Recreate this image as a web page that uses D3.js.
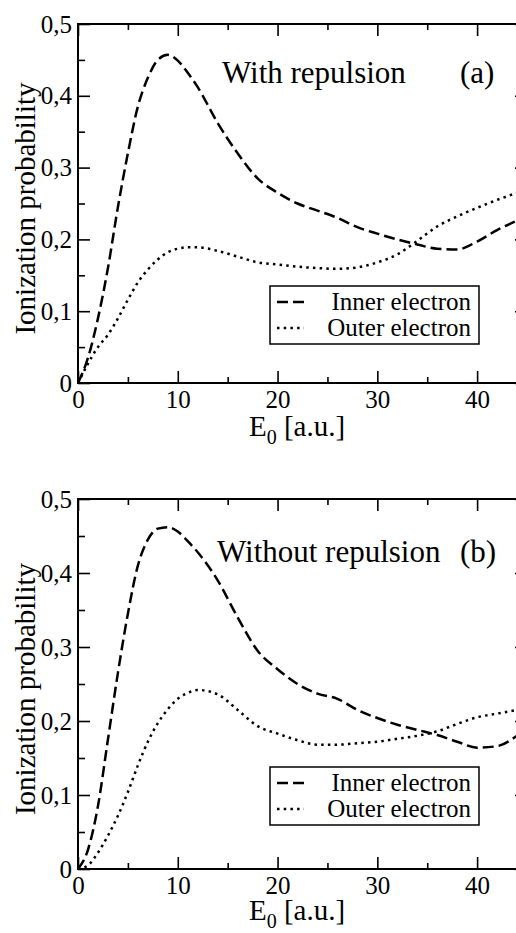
<!DOCTYPE html>
<html>
<head>
<meta charset="utf-8">
<script src="https://cdn.jsdelivr.net/npm/d3@7"></script>
<style>
  body { margin: 0; background: #fff; }
  svg { display: block; }
  svg text { font-family: "Liberation Serif", "Times New Roman", "DejaVu Serif", serif !important; }
</style>
</head>
<body>
<svg id="chart" width="516" height="933"></svg>
<script>
// energy grid (a.u.)
const energy = [0, 1, 2, 3, 4, 5, 6, 7, 8, 9, 10, 11, 12, 14, 16, 18, 20, 22, 24, 26, 28, 30, 32, 34, 36, 38, 40, 42, 44, 45];

// panel (a) with repulsion
const innerWith = [0, 0.035, 0.09, 0.16, 0.245, 0.32, 0.385, 0.425, 0.45, 0.457, 0.449, 0.432, 0.412, 0.362, 0.32, 0.285, 0.265, 0.25, 0.24, 0.23, 0.217, 0.208, 0.2, 0.193, 0.187, 0.186, 0.197, 0.213, 0.226, 0.232];
const outerWith = [0, 0.027, 0.05, 0.067, 0.09, 0.116, 0.14, 0.158, 0.172, 0.182, 0.187, 0.189, 0.189, 0.184, 0.176, 0.168, 0.165, 0.162, 0.16, 0.159, 0.161, 0.168, 0.179, 0.198, 0.218, 0.232, 0.244, 0.255, 0.265, 0.27];

// panel (b) without repulsion
const innerWithout = [0, 0.026, 0.085, 0.175, 0.265, 0.345, 0.41, 0.445, 0.46, 0.462, 0.456, 0.443, 0.428, 0.39, 0.34, 0.295, 0.27, 0.25, 0.237, 0.23, 0.215, 0.204, 0.195, 0.188, 0.181, 0.172, 0.164, 0.166, 0.18, 0.19];
const outerWithout = [0, 0.005, 0.022, 0.045, 0.072, 0.104, 0.14, 0.172, 0.197, 0.216, 0.23, 0.238, 0.242, 0.236, 0.215, 0.193, 0.183, 0.174, 0.168, 0.168, 0.17, 0.172, 0.176, 0.18, 0.186, 0.196, 0.205, 0.21, 0.215, 0.218];

const xMajor = [0, 10, 20, 30, 40];
const xMinor = [5, 15, 25, 35, 45];
const xTickLabels = ["0", "10", "20", "30", "40"];
const yMajor = [0, 0.1, 0.2, 0.3, 0.4, 0.5];
const yMinor = [0.05, 0.15, 0.25, 0.35, 0.45];
const yTickLabels = ["0", "0,1", "0,2", "0,3", "0,4", "0,5"];
const legendNames = ["Inner electron", "Outer electron"];

const serif = "Liberation Serif, Times New Roman, DejaVu Serif, serif";
const svg = d3.select("#chart");

const panels = [
  { top: 24, bottom: 383, inner: innerWith, outer: outerWith, title: "With repulsion", tag: "(a)",
    titleX: 222, tagX: 460, titleY: 83, legendY: 286, xTitleY: 436 },
  { top: 499, bottom: 869, inner: innerWithout, outer: outerWithout, title: "Without repulsion", tag: "(b)",
    titleX: 217, tagX: 460, titleY: 562, legendY: 767, xTitleY: 920 }
];

const left = 78, right = 527;

panels.forEach((p, pi) => {
  const x = d3.scaleLinear().domain([0, 45]).range([left, right]);
  const y = d3.scaleLinear().domain([0, 0.5]).range([p.bottom, p.top]);
  const g = svg.append("g").attr("font-family", serif);

  const clipId = "clip" + pi;
  g.append("clipPath").attr("id", clipId)
    .append("rect").attr("x", left).attr("y", p.top)
    .attr("width", right - left).attr("height", p.bottom - p.top);

  // axes: major + minor ticks, pointing inward
  const styleAxis = sel => {
    sel.attr("font-family", serif);
    sel.select(".domain").remove();
    sel.selectAll(".tick line").attr("stroke", "#000").attr("stroke-width", 1.6);
    sel.selectAll(".tick text").attr("fill", "#000").style("font-size", "25px");
  };
  g.append("g").attr("transform", `translate(0,${p.bottom})`)
    .call(d3.axisBottom(x).tickValues(xMajor).tickSize(-12).tickPadding(7)
      .tickFormat((d, i) => xTickLabels[i]))
    .call(styleAxis);
  g.append("g").attr("transform", `translate(0,${p.bottom})`)
    .call(d3.axisBottom(x).tickValues(xMinor).tickSize(-6).tickFormat(""))
    .call(styleAxis);
  g.append("g").attr("transform", `translate(0,${p.top})`)
    .call(d3.axisTop(x).tickValues(xMajor).tickSize(-12).tickFormat(""))
    .call(styleAxis);
  g.append("g").attr("transform", `translate(0,${p.top})`)
    .call(d3.axisTop(x).tickValues(xMinor).tickSize(-6).tickFormat(""))
    .call(styleAxis);
  g.append("g").attr("transform", `translate(${left},0)`)
    .call(d3.axisLeft(y).tickValues(yMajor).tickSize(-12).tickPadding(6)
      .tickFormat((d, i) => yTickLabels[i]))
    .call(styleAxis);
  g.append("g").attr("transform", `translate(${left},0)`)
    .call(d3.axisLeft(y).tickValues(yMinor).tickSize(-7).tickFormat(""))
    .call(styleAxis);
  g.append("g").attr("transform", `translate(${right},0)`)
    .call(d3.axisRight(y).tickValues(yMajor).tickSize(-12).tickFormat(""))
    .call(styleAxis);
  g.append("g").attr("transform", `translate(${right},0)`)
    .call(d3.axisRight(y).tickValues(yMinor).tickSize(-7).tickFormat(""))
    .call(styleAxis);

  // frame
  g.append("rect")
    .attr("x", left).attr("y", p.top)
    .attr("width", right - left).attr("height", p.bottom - p.top)
    .attr("fill", "none").attr("stroke", "#000").attr("stroke-width", 2);

  const line = d3.line()
    .x((d, i) => x(energy[i]))
    .y(d => y(d))
    .curve(d3.curveMonotoneX);

  g.append("path").datum(p.inner)
    .attr("clip-path", `url(#${clipId})`)
    .attr("d", line)
    .attr("fill", "none").attr("stroke", "#000")
    .attr("stroke-width", 2.5).attr("stroke-dasharray", "11,5");

  g.append("path").datum(p.outer)
    .attr("clip-path", `url(#${clipId})`)
    .attr("d", line)
    .attr("fill", "none").attr("stroke", "#000")
    .attr("stroke-width", 2.5).attr("stroke-dasharray", "2.5,4.2");

  // annotation
  g.append("text").attr("x", p.titleX).attr("y", p.titleY)
    .style("font-size", "31px").text(p.title);
  g.append("text").attr("x", p.tagX).attr("y", p.titleY)
    .style("font-size", "31px").text(p.tag);

  // axis titles
  const xt = g.append("text")
    .attr("x", (left + 516) / 2).attr("y", p.xTitleY)
    .attr("text-anchor", "middle").style("font-size", "29px");
  xt.append("tspan").text("E");
  xt.append("tspan").attr("dy", 8).style("font-size", "20px").text("0");
  xt.append("tspan").attr("dy", -8).text(" [a.u.]");

  g.append("text")
    .attr("transform", `translate(35,${(p.top + p.bottom) / 2 + 5}) rotate(-90)`)
    .attr("text-anchor", "middle").style("font-size", "29px")
    .text("Ionization probability");

  // legend
  const lg = g.append("g").attr("transform", `translate(270,${p.legendY})`);
  lg.append("rect").attr("width", 209).attr("height", 58)
    .attr("fill", "#fff").attr("stroke", "#000").attr("stroke-width", 1.5);
  const dashes = ["11,5", "2.5,4.2"];
  legendNames.forEach((name, i) => {
    const cy = 16 + i * 26;
    lg.append("line").attr("x1", 7).attr("x2", 34).attr("y1", cy).attr("y2", cy)
      .attr("stroke", "#000").attr("stroke-width", 2.5).attr("stroke-dasharray", dashes[i]);
    lg.append("text").attr("x", 201).attr("y", cy + 8)
      .attr("text-anchor", "end").style("font-size", "25px").text(name);
  });
});
</script>
</body>
</html>
